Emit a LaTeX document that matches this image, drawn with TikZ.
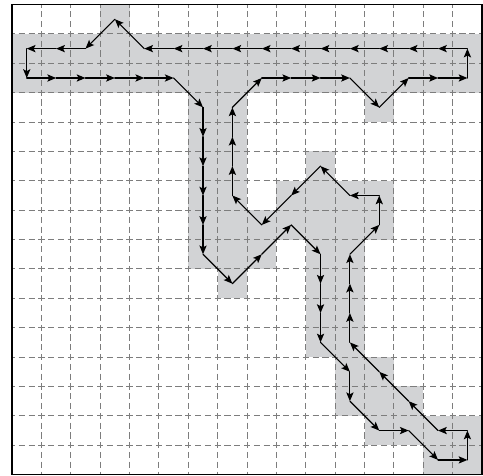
\documentclass[tikz,border=0pt]{standalone}
\usetikzlibrary{arrows.meta}
\definecolor{cellgray}{RGB}{210,211,213}
\definecolor{gridgray}{RGB}{125,125,125}
\begin{document}
\begin{tikzpicture}[x=1cm,y=1cm,
  cellfill/.style={fill=cellgray,draw=none},
  gridline/.style={draw=gridgray,line width=1pt,dash pattern=on 6pt off 3.4843pt,dash phase=3pt},
  frameline/.style={draw=black,line width=1.3pt},
  move/.style={draw=black,line width=1.1pt,line cap=round,-{Stealth[length=8.5pt,width=7pt,inset=1.8pt]}}]
\useasboundingbox (-0.41,-0.035) rectangle (16.03,16.155);
% shaded cells (row/col, row 0 at top)
\foreach \r/\c in {0/3,
  1/0,1/1,1/2,1/3,1/4,1/5,1/6,1/7,1/8,1/9,1/10,1/11,1/12,1/13,1/14,1/15,
  2/0,2/1,2/2,2/3,2/4,2/5,2/6,2/7,2/8,2/9,2/10,2/11,2/12,2/13,2/14,2/15,
  3/6,3/7,3/12,
  4/6,4/7,
  5/6,5/7,5/10,
  6/6,6/7,6/9,6/10,6/11,6/12,
  7/6,7/7,7/8,7/9,7/10,7/11,7/12,
  8/6,8/7,8/8,8/10,8/11,
  9/7,9/10,9/11,
  10/10,10/11,
  11/10,11/11,
  12/11,12/12,
  13/11,13/12,13/13,
  14/12,14/13,14/14,14/15,
  15/14,15/15}
  \fill[cellfill] (\c,15-\r) rectangle ++(1,1);
% grid
\foreach \i in {1,...,15} {
  \draw[gridline] (\i,16) -- (\i,0);
  \draw[gridline] (0,\i) -- (16,\i);
}
\draw[frameline] (0,0) rectangle (16,16);
% cell centres
\foreach \r in {0,...,15}
  \foreach \c in {0,...,15}
    \coordinate (p\r-\c) at (\c+0.5,15.5-\r);
% path
\foreach \r/\c [remember=\r as \lr (initially 1), remember=\c as \lc (initially 15)] in
  {1/14,1/13,1/12,1/11,1/10,1/9,1/8,1/7,1/6,1/5,1/4,0/3,1/2,1/1,1/0,
   2/0,2/1,2/2,2/3,2/4,2/5,3/6,4/6,5/6,6/6,7/6,8/6,9/7,8/8,7/9,8/10,
   9/10,10/10,11/10,12/11,13/11,14/12,14/13,15/14,15/15,14/15,14/14,
   13/13,12/12,11/11,10/11,9/11,8/11,7/12,6/12,6/11,5/10,6/9,7/8,6/7,
   5/7,4/7,3/7,2/8,2/9,2/10,2/11,3/12,2/13,2/14,2/15,1/15}
  \draw[move] (p\lr-\lc) -- (p\r-\c);
\end{tikzpicture}
\end{document}
